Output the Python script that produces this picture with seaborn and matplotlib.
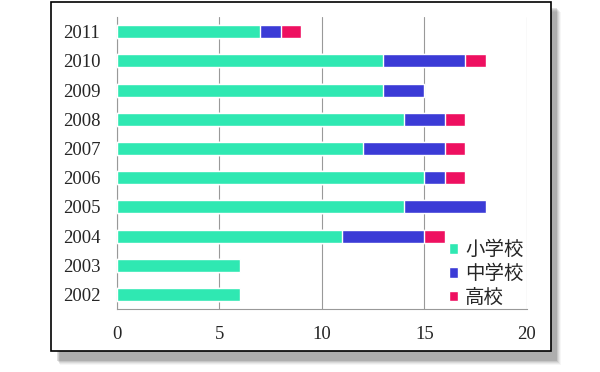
import pandas as pd
import matplotlib
matplotlib.use('Agg')
import matplotlib.pyplot as plt
import seaborn as sns
from matplotlib.patches import Rectangle, Patch
from matplotlib.ticker import FixedLocator

# Data
years = ['2002', '2003', '2004', '2005', '2006', '2007', '2008', '2009', '2010', '2011']
elementary = [6, 6, 11, 14, 15, 12, 14, 13, 13, 7]   # 小学校
junior_high = [0, 0, 4, 4, 1, 4, 2, 2, 4, 1]         # 中学校
high_school = [0, 0, 1, 0, 1, 1, 1, 0, 1, 1]         # 高校
series_names = ['小学校', '中学校', '高校']
colors = ['#2fe8b2', '#3b3bd6', '#ee1060']

df = pd.DataFrame({'year': years, 'e': elementary, 'j': junior_high, 'h': high_school})
df['ej'] = df['e'] + df['j']
df['ejh'] = df['ej'] + df['h']

sns.set_style('white')
plt.rcParams['font.family'] = ['Liberation Serif', 'DejaVu Serif']

fig = plt.figure(figsize=(6, 3.72), dpi=100)
fig.patch.set_facecolor('white')

# frame with soft shadow
for i, a in enumerate([0.04, 0.06, 0.08, 0.10, 0.14]):
    off = (5 - i) * 0.0015
    fig.patches.append(Rectangle((0.085 + 0.008 + off, 0.045 - 0.014 - off * 1.6), 0.834, 0.95,
                                 transform=fig.transFigure, facecolor='#222222', alpha=a,
                                 edgecolor='none', zorder=0))
fig.patches.append(Rectangle((0.085, 0.057), 0.834, 0.938, transform=fig.transFigure,
                             facecolor='white', edgecolor='black', linewidth=1.2, zorder=1))

ax = fig.add_axes([0.195, 0.169, 0.683, 0.785])
ax.set_zorder(5)
ax.set_facecolor('none')
order = years[::-1]
sns.barplot(data=df, x='ejh', y='year', order=order, orient='h', color=colors[2],
            width=0.45, saturation=1, ax=ax, zorder=3)
sns.barplot(data=df, x='ej', y='year', order=order, orient='h', color=colors[1],
            width=0.45, saturation=1, ax=ax, zorder=3)
sns.barplot(data=df, x='e', y='year', order=order, orient='h', color=colors[0],
            width=0.45, saturation=1, ax=ax, zorder=3)

ax.set_xlim(0, 20)
ax.set_ylim(9.5, -0.5)
ax.set_xticks([0, 5, 10, 15, 20])
ax.grid(axis='x', color='#999999', linewidth=0.8, zorder=0)
ax.set_axisbelow(True)
ax.set_xlabel('')
ax.set_ylabel('')
for s in ['top', 'right']:
    ax.spines[s].set_visible(False)
for s in ['left', 'bottom']:
    ax.spines[s].set_color('#999999')
    ax.spines[s].set_linewidth(0.8)
ax.tick_params(axis='x', length=4, color='#999999', direction='out', labelsize=13.5, pad=8)
ax.tick_params(axis='y', length=0, labelsize=13.5, pad=12)
ax.yaxis.set_minor_locator(FixedLocator([i + 0.5 for i in range(-1, 10)]))
ax.tick_params(axis='y', which='minor', length=5, color='#999999', direction='out')

handles = [Patch(facecolor=c) for c in colors]
ax.legend(handles, series_names, loc='lower right', bbox_to_anchor=(1.03, -0.05), frameon=False,
          prop={'family': ['Noto Sans CJK JP'], 'size': 14}, handlelength=0.45, handleheight=0.45,
          handletextpad=0.35, labelspacing=0.15, borderpad=0.3)

fig.savefig('out.png', dpi=100)
